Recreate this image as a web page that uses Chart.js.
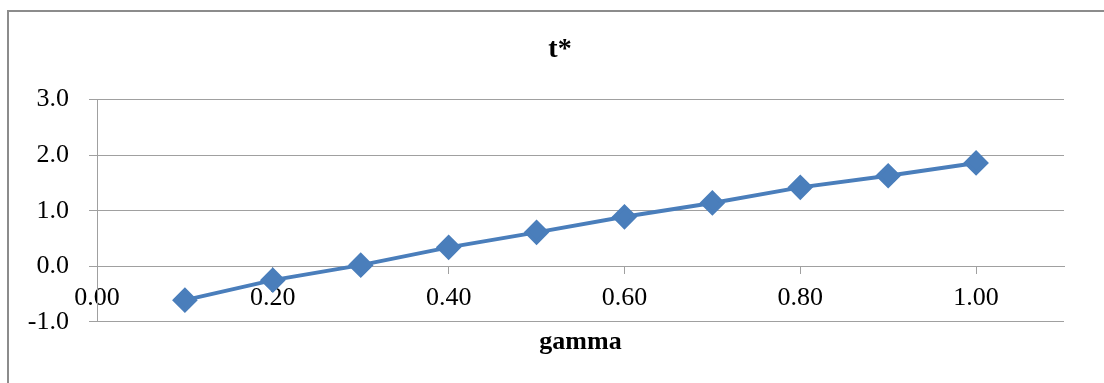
<!DOCTYPE html>
<html>
<head>
<meta charset="utf-8">
<script src="https://cdn.jsdelivr.net/npm/chart.js@4"></script>
<style>
  html, body { margin: 0; padding: 0; background: #fff; }
  #wrap { position: relative; width: 1104px; height: 383px; overflow: hidden; }
  #frame { position: absolute; left: 7px; top: 10px; width: 1200px; height: 500px; border: 2px solid #8c8c8c; box-sizing: border-box; }
  canvas { position: absolute; left: 0; top: 0; }
</style>
</head>
<body>
<div id="wrap">
  <div id="frame"></div>
  <canvas id="chart" width="1104" height="383"></canvas>
</div>
<script>
const gammaValues = [0.1, 0.2, 0.3, 0.4, 0.5, 0.6, 0.7, 0.8, 0.9, 1.0]
const tStar = [-0.61, -0.25, 0.02, 0.34, 0.61, 0.89, 1.14, 1.42, 1.63, 1.86]
const xTicks = [0, 0.2, 0.4, 0.6, 0.8, 1.0]
const yTicks = [-1, 0, 1, 2, 3]

const serif = "'Liberation Serif', 'Times New Roman', serif"
const blue = '#4a7ebb'
const gridGray = '#a0a0a0'

new Chart(document.getElementById('chart'), {
  type: 'scatter',
  data: {
    datasets: [
      {
        label: 't*',
        data: gammaValues.map((g, i) => ({ x: g, y: tStar[i] })),
        showLine: true,
        borderColor: blue,
        backgroundColor: blue,
        borderWidth: 4,
        pointStyle: 'rectRot',
        pointRadius: 10,
        pointHoverRadius: 10,
      },
    ],
  },
  options: {
    responsive: false,
    animation: false,
    layout: { padding: { left: 16, right: 0, top: 0, bottom: 0 } },
    plugins: {
      legend: { display: false },
      tooltip: { enabled: false },
      title: {
        display: true,
        text: 't*',
        color: '#000',
        font: { family: serif, size: 28, weight: 'bold' },
        padding: { top: 33, bottom: 33 },
      },
      subtitle: {
        display: true,
        position: 'bottom',
        fullSize: false,
        text: 'gamma',
        color: '#000',
        font: { family: serif, size: 26, weight: 'bold' },
        padding: { top: 5, bottom: 25 },
      },
    },
    scales: {
      x: {
        type: 'linear',
        min: 0,
        max: 1.1,
        position: { y: 0 },
        afterBuildTicks: (scale) => {
          scale.ticks = xTicks.map((v) => ({ value: v }))
        },
        ticks: {
          color: '#000',
          font: { family: serif, size: 26 },
          padding: 9,
          maxRotation: 0,
          callback: (v) => Number(v).toFixed(2),
        },
        grid: {
          drawOnChartArea: false,
          drawTicks: true,
          tickLength: 7,
          color: gridGray,
        },
        border: { display: true, color: gridGray },
      },
      y: {
        min: -1,
        max: 3,
        afterBuildTicks: (scale) => {
          scale.ticks = yTicks.map((v) => ({ value: v }))
        },
        afterFit: (scale) => {
          scale.width = 81
        },
        ticks: {
          color: '#000',
          font: { family: serif, size: 26 },
          padding: 20,
          callback: (v) => Number(v).toFixed(1),
        },
        grid: {
          color: gridGray,
          tickLength: 8,
        },
        border: { display: true, color: gridGray },
      },
      // empty right axis only reserves the blank strip right of the plot
      yRight: {
        position: 'right',
        min: -1,
        max: 3,
        ticks: { display: false },
        grid: { display: false },
        border: { display: false },
        afterFit: (scale) => {
          scale.width = 40
        },
      },
    },
  },
})
</script>
</body>
</html>
